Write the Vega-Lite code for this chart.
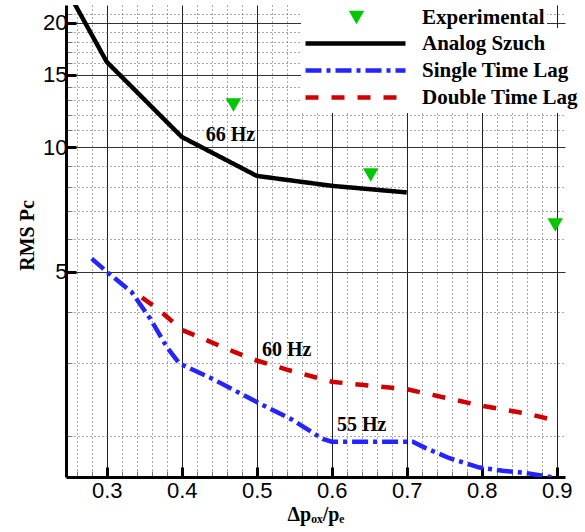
{
  "$schema": "https://vega.github.io/schema/vega-lite/v6.json",
  "autosize": {"type": "none"},
  "padding": {"left": 66, "top": 5, "right": 20, "bottom": 55},
  "width": 499,
  "height": 472,
  "background": "white",
  "config": {
    "view": {"stroke": null},
    "axis": {
      "domainColor": "black",
      "domainWidth": 3,
      "labelFont": "Liberation Sans",
      "labelFontSize": 22,
      "labelColor": "black",
      "titleFont": "Liberation Serif",
      "titleFontWeight": "bold",
      "titleFontSize": 20,
      "titleColor": "black",
      "labelOverlap": false,
      "labelFlush": false
    }
  },
  "datasets": {
    "curves": [
      {"series": "Analog Szuch", "x": 0.25, "y": 23.5},
      {"series": "Analog Szuch", "x": 0.30, "y": 16.1},
      {"series": "Analog Szuch", "x": 0.40, "y": 10.6},
      {"series": "Analog Szuch", "x": 0.50, "y": 8.53},
      {"series": "Analog Szuch", "x": 0.60, "y": 8.07},
      {"series": "Analog Szuch", "x": 0.70, "y": 7.78},
      {"series": "Single Time Lag", "x": 0.28, "y": 5.38},
      {"series": "Single Time Lag", "x": 0.30, "y": 5.0},
      {"series": "Single Time Lag", "x": 0.333, "y": 4.47},
      {"series": "Single Time Lag", "x": 0.358, "y": 3.85},
      {"series": "Single Time Lag", "x": 0.38, "y": 3.29},
      {"series": "Single Time Lag", "x": 0.397, "y": 3.0},
      {"series": "Single Time Lag", "x": 0.44, "y": 2.76},
      {"series": "Single Time Lag", "x": 0.50, "y": 2.42},
      {"series": "Single Time Lag", "x": 0.548, "y": 2.19},
      {"series": "Single Time Lag", "x": 0.588, "y": 1.97},
      {"series": "Single Time Lag", "x": 0.60, "y": 1.94},
      {"series": "Single Time Lag", "x": 0.708, "y": 1.94},
      {"series": "Single Time Lag", "x": 0.726, "y": 1.87},
      {"series": "Single Time Lag", "x": 0.757, "y": 1.77},
      {"series": "Single Time Lag", "x": 0.797, "y": 1.68},
      {"series": "Single Time Lag", "x": 0.828, "y": 1.65},
      {"series": "Single Time Lag", "x": 0.859, "y": 1.63},
      {"series": "Single Time Lag", "x": 0.895, "y": 1.59},
      {"series": "Double Time Lag", "x": 0.347, "y": 4.33},
      {"series": "Double Time Lag", "x": 0.367, "y": 4.08},
      {"series": "Double Time Lag", "x": 0.384, "y": 3.84},
      {"series": "Double Time Lag", "x": 0.40, "y": 3.62},
      {"series": "Double Time Lag", "x": 0.47, "y": 3.20},
      {"series": "Double Time Lag", "x": 0.50, "y": 3.05},
      {"series": "Double Time Lag", "x": 0.54, "y": 2.90},
      {"series": "Double Time Lag", "x": 0.60, "y": 2.71},
      {"series": "Double Time Lag", "x": 0.642, "y": 2.66},
      {"series": "Double Time Lag", "x": 0.70, "y": 2.60},
      {"series": "Double Time Lag", "x": 0.80, "y": 2.37},
      {"series": "Double Time Lag", "x": 0.86, "y": 2.27},
      {"series": "Double Time Lag", "x": 0.895, "y": 2.19}
    ],
    "exp": [
      {"series": "Experimental", "x": 0.469, "y": 12.66},
      {"series": "Experimental", "x": 0.652, "y": 8.57},
      {"series": "Experimental", "x": 0.898, "y": 6.49}
    ],
    "notes": [
      {"label": "66 Hz", "x": 0.465, "y": 10.71},
      {"label": "60 Hz", "x": 0.54, "y": 3.24},
      {"label": "55 Hz", "x": 0.64, "y": 2.13}
    ]
  },
  "encoding": {
    "x": {
      "field": "x", "type": "quantitative",
      "scale": {"domain": [0.2457, 0.911], "nice": false, "zero": false},
      "axis": {
        "title": "Δpₒₓ/pₑ",
        "titleX": 249.5, "titleY": 43, "titleBaseline": "alphabetic", "titleAlign": "center",
        "values": [0.26,0.28,0.3,0.32,0.34,0.36,0.38,0.4,0.42,0.44,0.46,0.48,0.5,0.52,0.54,0.56,0.58,0.6,0.62,0.64,0.66,0.68,0.7,0.72,0.74,0.76,0.78,0.8,0.82,0.84,0.86,0.88,0.9],
        "labelExpr": "abs(datum.value*10 - round(datum.value*10)) < 0.001 ? format(datum.value, '.1f') : ''",
        "labelPadding": 13,
        "grid": true,
        "gridColor": {"condition": {"test": "abs(datum.value*10 - round(datum.value*10)) < 0.001", "value": "#222222"}, "value": "#555555"},
        "gridDash": {"condition": {"test": "abs(datum.value*10 - round(datum.value*10)) < 0.001", "value": []}, "value": [1, 3]},
        "gridWidth": 1,
        "tickSize": {"condition": {"test": "abs(datum.value*10 - round(datum.value*10)) < 0.001", "value": -10}, "value": -6},
        "tickWidth": {"condition": {"test": "abs(datum.value*10 - round(datum.value*10)) < 0.001", "value": 3}, "value": 1},
        "tickColor": {"condition": {"test": "abs(datum.value*10 - round(datum.value*10)) < 0.001", "value": "black"}, "value": "#777777"}
      }
    },
    "y": {
      "field": "y", "type": "quantitative",
      "scale": {"type": "log", "domain": [1.594, 22.1], "nice": false, "zero": false},
      "axis": {
        "title": "RMS Pc",
        "titleX": -33, "titleY": 230, "titleBaseline": "alphabetic", "titleAlign": "center", "titleAngle": -90,
        "values": [2,3,4,5,6,7,8,9,11,12,13,14,15,16,17,18,19,20,21,10],
        "labelExpr": "datum.value % 5 == 0 ? format(datum.value, 'd') : ''",
        "labelPadding": 9,
        "grid": true,
        "gridColor": {"condition": {"test": "datum.value % 5 == 0", "value": "#333333"}, "value": "#555555"},
        "gridDash": {"condition": {"test": "datum.value % 5 == 0", "value": []}, "value": [1, 3]},
        "gridWidth": 1,
        "tickSize": {"condition": {"test": "datum.value % 5 == 0", "value": -10}, "value": -6},
        "tickWidth": {"condition": {"test": "datum.value % 5 == 0", "value": 3}, "value": 1},
        "tickColor": {"condition": {"test": "datum.value % 5 == 0", "value": "black"}, "value": "#777777"}
      }
    }
  },
  "layer": [
    {
      "data": {"name": "curves"},
      "mark": {"type": "line", "strokeWidth": 4.5, "clip": true},
      "encoding": {
        "color": {
          "field": "series", "type": "nominal",
          "scale": {"domain": ["Analog Szuch", "Single Time Lag", "Double Time Lag"], "range": ["#000000", "#2424ff", "#d00000"]},
          "legend": {
            "orient": "none", "legendX": 235, "legendY": 23, "title": null,
            "fillColor": "white", "padding": 2,
            "symbolType": "stroke", "symbolSize": 10000, "symbolStrokeWidth": 4.5,
            "clipHeight": 27, "rowPadding": 0,
            "labelFont": "Liberation Serif", "labelFontWeight": "bold", "labelFontSize": 21,
            "labelColor": "black", "labelOffset": 14, "labelLimit": 400
          }
        },
        "strokeDash": {
          "field": "series", "type": "nominal",
          "scale": {"domain": ["Analog Szuch", "Single Time Lag", "Double Time Lag"], "range": [[1, 0], [16, 5, 4, 5], [13, 13]]}
        }
      }
    },
    {
      "data": {"name": "exp"},
      "mark": {"type": "point", "filled": true, "fill": "#00c800", "strokeWidth": 0, "size": 240, "opacity": 1},
      "encoding": {
        "shape": {
          "field": "series", "type": "nominal",
          "scale": {"domain": ["Experimental"], "range": ["triangle-down"]},
          "legend": {
            "orient": "none", "legendX": 235, "legendY": -3, "title": null,
            "fillColor": "white", "padding": 2,
            "symbolSize": 240, "symbolOffset": 43, "symbolFillColor": "#00c800", "symbolStrokeWidth": 0,
            "clipHeight": 27, "rowPadding": 0,
            "labelFont": "Liberation Serif", "labelFontWeight": "bold", "labelFontSize": 21,
            "labelColor": "black", "labelOffset": 55, "labelLimit": 400
          }
        }
      }
    },
    {
      "data": {"name": "notes"},
      "mark": {"type": "text", "font": "Liberation Serif", "fontWeight": "bold", "fontSize": 20, "align": "center", "baseline": "middle", "color": "black"},
      "encoding": {"text": {"field": "label"}}
    }
  ]
}
